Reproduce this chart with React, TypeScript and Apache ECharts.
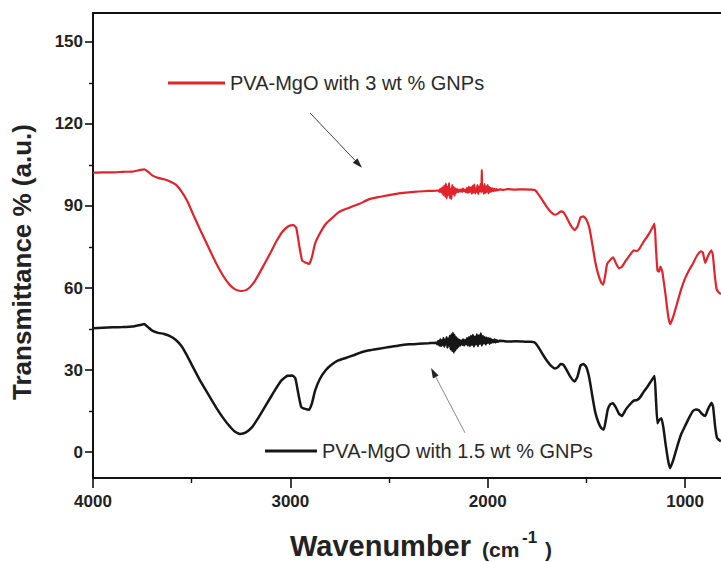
import React, { useEffect, useRef } from "react";
import * as echarts from "echarts";

// FTIR spectra: [wavenumber (cm-1), transmittance %]
const spectrum3wt: [number, number][] = [
  [4000, 102.2], [3950, 102.3], [3900, 102.3], [3850, 102.5], [3800, 102.6], [3760, 103.2], [3740, 103.4],
  [3720, 102.5], [3700, 101.2], [3670, 100.3], [3640, 99.8], [3610, 99.0], [3580, 97.8], [3550, 95.2],
  [3520, 91.5], [3490, 86.5], [3460, 81.8], [3430, 77.2], [3400, 72.6], [3370, 68.2], [3340, 64.4],
  [3310, 61.4], [3280, 59.5], [3250, 58.9], [3220, 59.4], [3190, 61.5], [3160, 65.0], [3130, 69.0],
  [3100, 73.0], [3070, 77.2], [3040, 80.6], [3010, 82.6], [2985, 83.0], [2970, 82.0], [2955, 75.5],
  [2940, 70.0], [2920, 69.2], [2905, 68.8], [2890, 71.5], [2875, 76.2], [2850, 80.0], [2820, 83.5],
  [2790, 85.5], [2760, 87.5], [2730, 88.6], [2700, 89.4], [2650, 90.8], [2600, 92.5], [2550, 93.3],
  [2500, 94.0], [2450, 94.6], [2400, 95.0], [2350, 95.3], [2300, 95.5], [2260, 95.6],
  [2250, 95.7], [2245, 95.2], [2240, 96.3], [2235, 94.9], [2230, 96.8], [2225, 94.0], [2220, 97.5],
  [2215, 93.4], [2212, 98.2], [2208, 92.8], [2204, 97.0], [2200, 94.1], [2196, 98.4], [2192, 93.0],
  [2188, 96.2], [2184, 92.6], [2180, 97.6], [2176, 94.4], [2172, 96.9], [2168, 93.8], [2164, 96.5],
  [2160, 94.9], [2155, 96.2], [2150, 95.1], [2145, 96.0], [2140, 95.3], [2135, 96.1], [2130, 95.2],
  [2125, 96.4], [2120, 95.4], [2115, 96.0], [2110, 95.0], [2105, 96.6], [2100, 94.8], [2095, 97.0],
  [2090, 95.1], [2085, 96.8], [2080, 94.5], [2076, 97.4], [2072, 95.0], [2068, 97.8], [2064, 94.6],
  [2060, 96.3], [2056, 95.2], [2052, 97.6], [2048, 94.4], [2044, 97.0], [2040, 95.4], [2036, 98.1],
  [2032, 95.0], [2030, 103.2], [2028, 95.5], [2024, 97.3], [2020, 94.5], [2016, 98.0], [2012, 94.8],
  [2008, 97.1], [2004, 95.2], [2000, 97.6], [1996, 94.7], [1992, 96.9], [1988, 95.1], [1984, 96.6],
  [1980, 95.3], [1975, 96.5], [1970, 95.4], [1965, 96.3], [1960, 95.6], [1955, 96.2], [1950, 95.7],
  [1940, 96.1], [1920, 95.9], [1900, 96.2], [1860, 96.0],
  [1820, 96.1], [1780, 96.0], [1760, 95.8], [1740, 94.0], [1720, 91.8], [1700, 89.6], [1680, 87.8],
  [1660, 86.8], [1645, 87.2], [1630, 88.0], [1615, 87.6], [1600, 85.8], [1580, 83.0], [1560, 81.2],
  [1545, 82.5], [1530, 85.8], [1515, 86.2], [1500, 85.0], [1485, 82.0], [1470, 76.0], [1455, 69.5],
  [1440, 65.0], [1425, 62.0], [1415, 61.2], [1405, 64.5], [1395, 68.8], [1380, 70.2], [1365, 71.2],
  [1350, 69.0], [1335, 67.2], [1320, 67.8], [1300, 70.0], [1280, 72.0], [1260, 73.8], [1245, 73.5],
  [1230, 74.5], [1210, 77.0], [1190, 79.0], [1170, 81.5], [1155, 83.6], [1148, 75.0], [1140, 66.5],
  [1132, 66.0], [1125, 67.8], [1115, 65.8], [1100, 58.0], [1085, 49.5], [1075, 46.8], [1060, 49.5],
  [1040, 54.5], [1020, 59.5], [1000, 63.5], [980, 66.5], [960, 69.0], [940, 71.8], [920, 73.4],
  [910, 73.0], [898, 69.2], [885, 71.5], [868, 73.8], [860, 72.5], [850, 65.0], [840, 59.5],
  [828, 58.3], [818, 57.8],
];

const spectrum15wt: [number, number][] = [
  [4000, 45.3], [3950, 45.5], [3900, 45.6], [3850, 45.7], [3800, 45.9], [3760, 46.5], [3740, 46.8],
  [3720, 45.6], [3700, 44.4], [3670, 43.6], [3640, 43.2], [3610, 42.4], [3580, 41.0], [3550, 38.6],
  [3520, 34.8], [3490, 30.6], [3460, 26.5], [3430, 22.8], [3400, 19.2], [3370, 15.6], [3340, 12.4],
  [3310, 9.6], [3280, 7.4], [3255, 6.6], [3225, 7.2], [3195, 9.0], [3165, 12.2], [3135, 15.8],
  [3105, 19.4], [3075, 23.0], [3045, 26.2], [3015, 27.9], [2990, 28.0], [2975, 27.0], [2960, 21.5],
  [2945, 16.5], [2925, 15.8], [2905, 15.5], [2890, 18.0], [2875, 22.4], [2850, 26.8], [2820, 30.0],
  [2790, 32.0], [2760, 33.4], [2720, 34.4], [2680, 35.4], [2640, 36.5], [2600, 37.2], [2550, 37.8],
  [2500, 38.4], [2450, 39.0], [2400, 39.4], [2350, 39.6], [2300, 39.8],
  [2260, 40.0], [2255, 39.4], [2250, 40.6], [2245, 39.0], [2240, 41.2], [2236, 38.8], [2232, 40.8],
  [2228, 39.2], [2224, 41.6], [2220, 38.6], [2216, 41.0], [2212, 39.4], [2208, 42.0], [2204, 38.2],
  [2200, 41.4], [2196, 39.0], [2192, 42.4], [2188, 37.6], [2184, 43.0], [2180, 37.0], [2176, 43.6],
  [2172, 36.4], [2168, 42.8], [2164, 37.2], [2160, 42.0], [2156, 38.0], [2152, 41.4], [2148, 38.6],
  [2144, 41.0], [2140, 39.0], [2135, 40.8], [2130, 39.2], [2125, 41.2], [2120, 39.0], [2115, 41.0],
  [2110, 39.4], [2105, 41.6], [2100, 39.0], [2095, 42.0], [2090, 38.8], [2085, 42.4], [2080, 39.2],
  [2075, 42.8], [2070, 38.6], [2065, 42.2], [2060, 39.4], [2055, 43.0], [2050, 38.8], [2045, 42.6],
  [2040, 39.6], [2035, 43.4], [2030, 39.0], [2025, 42.4], [2020, 39.8], [2015, 42.0], [2010, 39.4],
  [2005, 41.8], [2000, 40.0], [1995, 41.6], [1990, 39.6], [1985, 41.4], [1980, 40.0], [1975, 41.0],
  [1970, 40.2], [1965, 41.2], [1960, 40.1], [1955, 40.9], [1950, 40.3], [1940, 40.7], [1920, 40.6],
  [1900, 40.4], [1860, 40.5], [1820, 40.4], [1780, 40.3], [1760, 40.0], [1740, 38.0], [1720, 35.6],
  [1700, 33.4], [1680, 31.6], [1660, 30.6], [1645, 31.0], [1630, 32.2], [1615, 31.8], [1600, 30.0],
  [1580, 27.4], [1560, 25.8], [1545, 27.6], [1530, 31.6], [1515, 32.2], [1500, 31.0], [1485, 27.0],
  [1470, 20.5], [1455, 14.5], [1440, 11.0], [1425, 8.8], [1412, 8.2], [1402, 11.5], [1392, 15.5],
  [1380, 17.4], [1365, 17.8], [1350, 16.2], [1335, 14.0], [1320, 13.2], [1300, 15.6], [1280, 17.4],
  [1260, 18.8], [1245, 19.0], [1230, 19.8], [1210, 22.0], [1190, 24.0], [1170, 26.2], [1155, 27.8],
  [1148, 20.0], [1140, 10.5], [1132, 11.6], [1120, 12.4], [1110, 9.0], [1098, 2.5], [1085, -3.5],
  [1076, -5.9], [1060, -3.0], [1040, 2.0], [1020, 6.5], [1000, 9.5], [980, 12.5], [960, 15.0],
  [945, 15.6], [930, 15.3], [915, 14.0], [898, 13.2], [885, 15.5], [866, 18.0], [858, 16.5],
  [848, 9.5], [838, 5.2], [826, 4.3], [818, 4.0],
];

const seriesNames = ["PVA-MgO with 3 wt % GNPs", "PVA-MgO with 1.5 wt % GNPs"];
const seriesColors = ["#e3232c", "#161616"];

const xMajorTicks = [4000, 3000, 2000, 1000];
const xMinorTicks = [3500, 2500, 1500];
const yMajorTicks = [0, 30, 60, 90, 120, 150];
const yMinorTicks = [15, 45, 75, 105, 135];

// Annotation arrows, [tail, head] in data coordinates
const arrows: { from: [number, number]; to: [number, number]; color: string }[] = [
  { from: [2900, 124], to: [2637, 104], color: "#444" },
  { from: [2115, 7], to: [2287, 30.7], color: "#8a8a8a" },
];

const FONT = "'Liberation Sans', Arial, Helvetica, sans-serif";
const X_MIN = 818;
const X_MAX = 4000;
const Y_MIN = -9.5;
const Y_MAX = 160.6;

export default function App() {
  const ref = useRef<HTMLDivElement>(null);

  useEffect(() => {
    if (!ref.current) return;
    const chart = echarts.init(ref.current, undefined, { renderer: "svg" });

    const tickLabel = {
      fontFamily: FONT,
      fontSize: 17,
      fontWeight: "bold" as const,
      color: "#222",
      formatter: (v: number) => String(v),
    };
    const axisLineStyle = { color: "#111", width: 2 };

    const legendBase = {
      orient: "horizontal" as const,
      padding: 0,
      itemHeight: 3,
      icon: "rect",
      selectedMode: false,
      textStyle: { fontFamily: FONT, fontSize: 20, color: "#2a2a2a", lineHeight: 20 },
    };

    const xBase = { type: "value" as const, inverse: true, min: X_MIN, max: X_MAX };
    const yBase = { type: "value" as const, min: Y_MIN, max: Y_MAX };

    chart.setOption({
      animation: false,
      backgroundColor: "#ffffff",
      grid: { left: 93, right: 0, top: 13, bottom: 84 },
      legend: [
        { ...legendBase, data: [seriesNames[0]], left: 168, top: 73, itemWidth: 57 },
        { ...legendBase, data: [seriesNames[1]], left: 265, top: 441, itemWidth: 52 },
      ],
      xAxis: [
        {
          ...xBase,
          position: "bottom",
          axisLine: { show: true, onZero: false, lineStyle: axisLineStyle },
          axisTick: { show: true, customValues: xMajorTicks, length: 10, lineStyle: { color: "#111", width: 1.6 } },
          axisLabel: { show: true, customValues: xMajorTicks, margin: 15, showMaxLabel: true, ...tickLabel },
          splitLine: { show: false },
        },
        {
          ...xBase,
          position: "bottom",
          axisLine: { show: false, onZero: false },
          axisTick: { show: true, customValues: xMinorTicks, length: 5, lineStyle: { color: "#111", width: 1.4 } },
          axisLabel: { show: false },
          splitLine: { show: false },
        },
        {
          ...xBase,
          position: "top",
          axisLine: { show: true, onZero: false, lineStyle: axisLineStyle },
          axisTick: { show: false },
          axisLabel: { show: false },
          splitLine: { show: false },
        },
      ],
      yAxis: [
        {
          ...yBase,
          position: "left",
          axisLine: { show: true, onZero: false, lineStyle: axisLineStyle },
          axisTick: { show: true, customValues: yMajorTicks, length: 8, lineStyle: { color: "#111", width: 1.6 } },
          axisLabel: { show: true, customValues: yMajorTicks, margin: 10, ...tickLabel },
          splitLine: { show: false },
        },
        {
          ...yBase,
          position: "left",
          axisLine: { show: false, onZero: false },
          axisTick: { show: true, customValues: yMinorTicks, length: 4, lineStyle: { color: "#111", width: 1.4 } },
          axisLabel: { show: false },
          splitLine: { show: false },
        },
      ],
      series: [
        {
          name: seriesNames[0],
          type: "line",
          data: spectrum3wt,
          showSymbol: false,
          smooth: 0.15,
          lineStyle: { color: seriesColors[0], width: 2.2 },
          itemStyle: { color: seriesColors[0] },
          z: 3,
        },
        {
          name: seriesNames[1],
          type: "line",
          data: spectrum15wt,
          showSymbol: false,
          smooth: 0.15,
          lineStyle: { color: seriesColors[1], width: 2.5 },
          itemStyle: { color: seriesColors[1] },
          z: 3,
        },
      ],
    });

    // Axis titles and arrows, placed from the chart's own coordinate system
    const toPx = (pt: [number, number]) =>
      chart.convertToPixel({ xAxisIndex: 0, yAxisIndex: 0 }, pt) as number[];

    const graphics: any[] = [];
    arrows.forEach((a) => {
      const [x1, y1] = toPx(a.from);
      const [x2, y2] = toPx(a.to);
      const ang = Math.atan2(y2 - y1, x2 - x1);
      const len = 10;
      const half = 3.2;
      const bx = x2 - len * Math.cos(ang);
      const by = y2 - len * Math.sin(ang);
      graphics.push({
        type: "line",
        shape: { x1, y1, x2: bx, y2: by },
        style: { stroke: a.color, lineWidth: 1 },
        silent: true,
      });
      graphics.push({
        type: "polygon",
        shape: {
          points: [
            [x2, y2],
            [bx + half * Math.sin(ang), by - half * Math.cos(ang)],
            [bx - half * Math.sin(ang), by + half * Math.cos(ang)],
          ],
        },
        style: { fill: "#222" },
        silent: true,
      });
    });

    graphics.push({
      type: "text",
      x: 22,
      y: 262,
      rotation: Math.PI / 2,
      style: {
        text: "Transmittance % (a.u.)",
        font: `bold 26px ${FONT}`,
        fill: "#222",
        align: "center",
        verticalAlign: "middle",
      },
    });
    graphics.push({
      type: "text",
      x: 290,
      y: 546,
      style: {
        text: "Wavenumber",
        font: `bold 29px ${FONT}`,
        lineHeight: 28,
        fill: "#222",
        align: "left",
        verticalAlign: "middle",
      },
    });
    graphics.push({
      type: "text",
      x: 482,
      y: 549,
      style: { text: "(cm", font: `bold 21px ${FONT}`, fill: "#222", align: "left", verticalAlign: "middle" },
    });
    graphics.push({
      type: "text",
      x: 522,
      y: 537,
      style: { text: "-1", font: `bold 17px ${FONT}`, fill: "#222", align: "left", verticalAlign: "middle" },
    });
    graphics.push({
      type: "text",
      x: 545,
      y: 549,
      style: { text: ")", font: `bold 21px ${FONT}`, fill: "#222", align: "left", verticalAlign: "middle" },
    });

    chart.setOption({ graphic: graphics });

    return () => chart.dispose();
  }, []);

  return (
    <div
      ref={ref}
      style={{ position: "fixed", left: 0, top: 0, width: 721, height: 562, background: "#fff" }}
    />
  );
}
